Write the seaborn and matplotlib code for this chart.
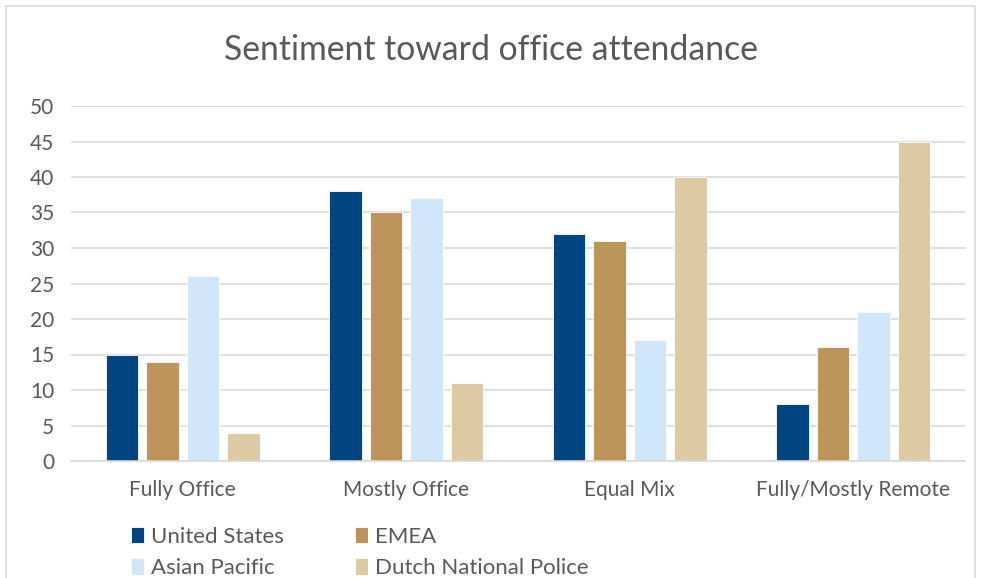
import matplotlib
matplotlib.use("Agg")
import matplotlib.pyplot as plt
import seaborn as sns
import pandas as pd
from matplotlib.patches import Rectangle

categories = ["Fully Office", "Mostly Office", "Equal Mix", "Fully/Mostly Remote"]
series = ["United States", "EMEA", "Asian Pacific", "Dutch National Police"]
united_states = [15, 38, 32, 8]
emea = [14, 35, 31, 16]
asian_pacific = [26, 37, 17, 21]
dutch_police = [4, 11, 40, 45]
colors = ["#004481", "#BD955A", "#D0E6FA", "#DDCAA3"]
yticks = [0, 5, 10, 15, 20, 25, 30, 35, 40, 45, 50]

rows = []
for name, vals in zip(series, [united_states, emea, asian_pacific, dutch_police]):
    for c, v in zip(categories, vals):
        rows.append({"category": c, "series": name, "value": v})
df = pd.DataFrame(rows)

sns.set_theme(style="white")
plt.rcParams["font.family"] = ["Lato", "DejaVu Sans"]
text_color = "#595959"

fig = plt.figure(figsize=(9.81, 5.78), dpi=100)
ax = fig.add_axes([71/981, 1-461/578, (965-71)/981, (461-106)/578])

sns.barplot(data=df, x="category", y="value", hue="series", hue_order=series,
            order=categories, palette=colors, width=0.725, gap=0.19,
            saturation=1, ax=ax, legend=True, edgecolor="white", linewidth=0.6)

ax.set_ylim(0, 50)
ax.set_xlim(-0.5, 3.5)
ax.set_yticks(yticks)
ax.set_yticklabels([str(t) for t in yticks], fontsize=15, color=text_color)
ax.tick_params(axis="x", labelsize=15, colors=text_color, length=0, pad=14)
ax.tick_params(axis="y", length=0, pad=12)
ax.set_xlabel("")
ax.set_ylabel("")
ax.grid(axis="y", color="#D9D9D9", linewidth=1.2)
ax.set_axisbelow(True)
for s in ["top", "right", "left"]:
    ax.spines[s].set_visible(False)
ax.spines["bottom"].set_color("#D9D9D9")
ax.spines["bottom"].set_linewidth(1.2)

fig.text(0.5, 1-50/578, "Sentiment toward office attendance", ha="center", va="center",
         fontsize=24.3, color=text_color)

handles, labels = ax.get_legend_handles_labels()
ax.get_legend().remove()
order = [0, 2, 1, 3]
fig.legend([handles[i] for i in order], [labels[i] for i in order],
           loc="upper left", bbox_to_anchor=(131/981, 1-527/578),
           ncol=2, frameon=False, fontsize=16, labelcolor=text_color,
           handlelength=0.6, handleheight=0.75, handletextpad=0.3,
           columnspacing=3.2, labelspacing=0.5, borderpad=0, borderaxespad=0)

fig.patches.append(Rectangle((6/981, -0.01), (975-6)/981, (1-6/578)+0.01,
                             transform=fig.transFigure, fill=False,
                             edgecolor="#D9D9D9", linewidth=1.2))

fig.savefig("out.png", dpi=100, facecolor="white")
